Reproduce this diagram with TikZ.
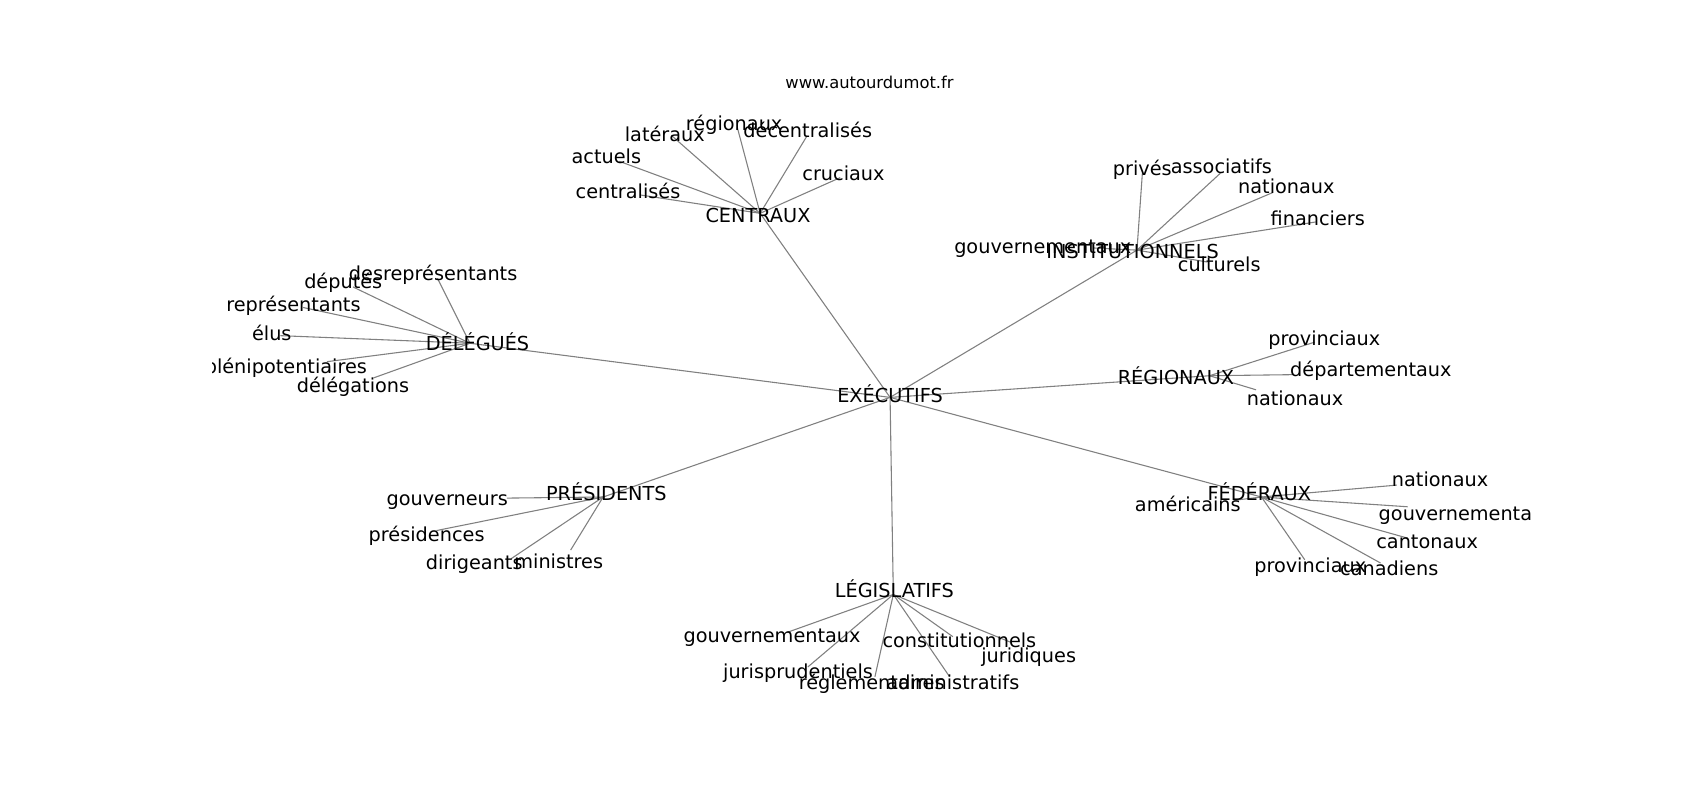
\documentclass[tikz,border=0pt]{standalone}
\usepackage{fontspec}
\setmainfont{DejaVu Sans}
\usepackage{tikz}
\tikzstyle{cloud_style}=[
	x=1pt,y=-1pt,
	word/.style={rectangle,draw=none,inner sep=0pt,yshift=-3pt,text height=0.73em,text depth=0pt,font=\fontsize{17.8pt}{20pt}\selectfont},
	title/.style={rectangle,draw=none,inner sep=0pt,font=\fontsize{15.1pt}{18pt}\selectfont},
	thin_edge/.style={draw=gray,line width=1pt}
]

\begin{document}
\begin{tikzpicture}[cloud_style]
		\useasboundingbox (0,0) rectangle (1570,739);
		
		\node[title]    (site) at (803,76)   {www.autourdumot.fr};
		
		\begin{scope}
		\clip (196,89) rectangle (1413,658);
		
		% graph points
		\coordinate (exe) at (822,367);
		\coordinate (cen) at (702,197);
		\coordinate (ins) at (1050,231);
		\coordinate (del) at (434,317);
		\coordinate (reg) at (1117,347);
		\coordinate (pre) at (557,459);
		\coordinate (fed) at (1165,459);
		\coordinate (leg) at (825,549);
		
		\coordinate (cen_act) at (572,149);
		\coordinate (cen_cet) at (591,180);
		\coordinate (cen_lat) at (620,125);
		\coordinate (cen_reg) at (681,118);
		\coordinate (cen_dec) at (745,126);
		\coordinate (cen_cru) at (776,164);
		
		\coordinate (ins_gou) at (1010,229);
		\coordinate (ins_pri) at (1055,160);
		\coordinate (ins_ass) at (1127,160);
		\coordinate (ins_nat) at (1175,178);
		\coordinate (ins_fin) at (1215,205);
		\coordinate (ins_cul) at (1115,242);
		
		\coordinate (del_des) at (404,257);
		\coordinate (del_dep) at (326,265);
		\coordinate (del_rep) at (280,284);
		\coordinate (del_elu) at (259,310);
		\coordinate (del_ple) at (302,334);
		\coordinate (del_dlg) at (345,349);
		
		\coordinate (reg_pro) at (1214,316);
		\coordinate (reg_dep) at (1194,346);
		\coordinate (reg_nat) at (1160,360);
		
		\coordinate (pre_gou) at (468,460);
		\coordinate (pre_prs) at (403,490);
		\coordinate (pre_dir) at (472,516);
		\coordinate (pre_min) at (527,508);
		
		\coordinate (fed_nat) at (1290,448);
		\coordinate (fed_gou) at (1300,468);
		\coordinate (fed_can) at (1300,497);
		\coordinate (fed_cnd) at (1275,520);
		\coordinate (fed_pro) at (1205,517);
		\coordinate (fed_ame) at (1140,462);
		
		\coordinate (leg_gou) at (727,584);
		\coordinate (leg_jur) at (746,616);
		\coordinate (leg_reg) at (808,625);
		\coordinate (leg_adm) at (877,625);
		\coordinate (leg_con) at (880,588);
		\coordinate (leg_jrd) at (933,593);
		
		% edges
		\path (exe) edge [thin_edge] (cen)
		(exe) edge [thin_edge] (ins)
		(exe) edge [thin_edge] (del)
		(exe) edge [thin_edge] (reg)
		(exe) edge [thin_edge] (pre)
		(exe) edge [thin_edge] (fed)
		(exe) edge [thin_edge] (leg);
		
		\path (cen) edge [thin_edge] (cen_act)
		(cen) edge [thin_edge] (cen_cet)
		(cen) edge [thin_edge] (cen_lat)
		(cen) edge [thin_edge] (cen_reg)
		(cen) edge [thin_edge] (cen_dec)
		(cen) edge [thin_edge] (cen_cru);
		
		\path (ins) edge [thin_edge] (ins_gou)
		(ins) edge [thin_edge] (ins_pri)
		(ins) edge [thin_edge] (ins_ass)
		(ins) edge [thin_edge] (ins_nat)
		(ins) edge [thin_edge] (ins_fin)
		(ins) edge [thin_edge] (ins_cul);
		
		\path (del) edge [thin_edge] (del_des)
		(del) edge [thin_edge] (del_dep)
		(del) edge [thin_edge] (del_rep)
		(del) edge [thin_edge] (del_elu)
		(del) edge [thin_edge] (del_ple)
		(del) edge [thin_edge] (del_dlg);
		
		\path (reg) edge [thin_edge] (reg_pro)
		(reg) edge [thin_edge] (reg_dep)
		(reg) edge [thin_edge] (reg_nat);
		
		\path (pre) edge [thin_edge] (pre_gou)
		(pre) edge [thin_edge] (pre_prs)
		(pre) edge [thin_edge] (pre_dir)
		(pre) edge [thin_edge] (pre_min);
		
		\path (fed) edge [thin_edge] (fed_nat)
		(fed) edge [thin_edge] (fed_gou)
		(fed) edge [thin_edge] (fed_can)
		(fed) edge [thin_edge] (fed_cnd)
		(fed) edge [thin_edge] (fed_pro)
		(fed) edge [thin_edge] (fed_ame);
		
		\path (leg) edge [thin_edge] (leg_gou)
		(leg) edge [thin_edge] (leg_jur)
		(leg) edge [thin_edge] (leg_reg)
		(leg) edge [thin_edge] (leg_adm)
		(leg) edge [thin_edge] (leg_con)
		(leg) edge [thin_edge] (leg_jrd);
		
		% labels
		\node[word]    (exe_w) at (822,365)   {EXÉCUTIFS};
		\node[word]    (cen_w) at (700,199)   {CENTRAUX};
		\node[word]    (ins_w) at (1046,232)  {INSTITUTIONNELS};
		\node[word]    (del_w) at (441,317)   {DÉLÉGUÉS};
		\node[word]    (reg_w) at (1086,348)  {RÉGIONAUX};
		\node[word]    (pre_w) at (560,456)   {PRÉSIDENTS};
		\node[word]    (fed_w) at (1163,456)  {FÉDÉRAUX};
		\node[word]    (leg_w) at (826,545)   {LÉGISLATIFS};
		
		\node[word]    (cen_act_w) at (560,144)   {actuels};
		\node[word]    (cen_cet_w) at (580,177)   {centralisés};
		\node[word]    (cen_lat_w) at (614,124)   {latéraux};
		\node[word]    (cen_reg_w) at (678,114)   {régionaux};
		\node[word]    (cen_dec_w) at (746,120)   {décentralisés};
		\node[word]    (cen_cru_w) at (779,160)   {cruciaux};
		
		\node[word]    (ins_gou_w) at (963,227)   {gouvernementaux};
		\node[word]    (ins_pri_w) at (1055,155)  {privés};
		\node[word]    (ins_ass_w) at (1128,154)  {associatifs};
		\node[word]    (ins_nat_w) at (1188,172)  {nationaux};
		\node[word]    (ins_fin_w) at (1217,202)  {financiers};
		\node[word]    (ins_cul_w) at (1126,244)  {culturels};
		
		\node[word]    (del_des_w) at (400,252)   {desreprésentants};
		\node[word]    (del_dep_w) at (317,260)   {députés};
		\node[word]    (del_rep_w) at (271,281)   {représentants};
		\node[word]    (del_elu_w) at (251,308)   {élus};
		\node[word]    (del_ple_w) at (264,338)   {plénipotentiaires};
		\node[word]    (del_dlg_w) at (326,356)   {délégations};
		
		\node[word]    (reg_pro_w) at (1223,312)  {provinciaux};
		\node[word]    (reg_dep_w) at (1266,341)  {départementaux};
		\node[word]    (reg_nat_w) at (1196,368)  {nationaux};
		
		\node[word]    (pre_gou_w) at (413,460)   {gouverneurs};
		\node[word]    (pre_prs_w) at (394,493)   {présidences};
		\node[word]    (pre_dir_w) at (438,519)   {dirigeants};
		\node[word]    (pre_min_w) at (516,518)   {ministres};
		
		\node[word]    (fed_nat_w) at (1330,443)  {nationaux};
		\node[word]    (fed_gou_w) at (1355,474)  {gouvernementaux};
		\node[word]    (fed_can_w) at (1318,500)  {cantonaux};
		\node[word]    (fed_cnd_w) at (1283,525)  {canadiens};
		\node[word]    (fed_pro_w) at (1210,522)  {provinciaux};
		\node[word]    (fed_ame_w) at (1097,466)  {américains};
		
		\node[word]    (leg_gou_w) at (713,587)   {gouvernementaux};
		\node[word]    (leg_jur_w) at (737,620)   {jurisprudentiels};
		\node[word]    (leg_reg_w) at (805,630)   {réglementaires};
		\node[word]    (leg_adm_w) at (880,630)   {administratifs};
		\node[word]    (leg_con_w) at (886,591)   {constitutionnels};
		\node[word]    (leg_jrd_w) at (950,605)   {juridiques};
		
		\end{scope}
\end{tikzpicture}
\end{document}
